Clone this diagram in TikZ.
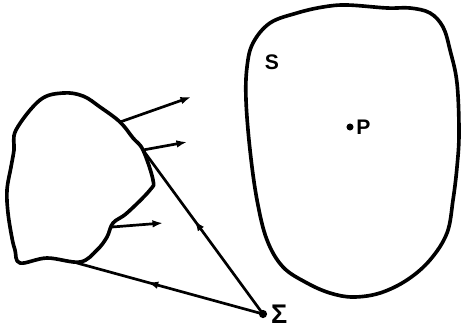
\documentclass[tikz,border=0pt]{standalone}
\usepackage{fontspec}
\usepackage{tikz}
\usetikzlibrary{arrows.meta,decorations.markings}
\newfontfamily\lblfont{Liberation Sans}

\begin{document}
\begin{tikzpicture}[
    x=0.03cm, y=-0.03cm,
    >={Latex[length=9pt,width=6.5pt]},
    outline/.style={line width=3.1pt, line join=round},
    ray/.style={->, line width=2.3pt},
    leg/.style={
        line width=2.3pt,
        postaction={decorate},
        decoration={markings, mark=at position #1 with {\arrow{>}}}
    },
    dot/.style={circle, fill=black, inner sep=0pt, minimum size=#1},
    lbl/.style={font=\fontsize{18}{21}\selectfont\lblfont\bfseries, inner sep=0pt}
]

% Stable crop.
\path[use as bounding box] (0,0) rectangle (461,332);

% --------------------------------------------------
% Radiating body (left)
% --------------------------------------------------
\draw[outline] plot[smooth cycle, tension=0.6] coordinates {
    (63,93) (83,96) (100,107) (120,122) (133,138) (143,150) (153,180)
    (150,190) (127,213) (113,223) (107,237) (97,250) (80,262)
    (47,258) (20,263) (15,250) (12,238) (8,213) (7,190) (11,167)
    (14,150) (16,130) (40,100)};

\coordinate (src1) at (120,122);
\coordinate (src2) at (143,150);
\coordinate (src3) at (112,227);
\coordinate (srcb) at (77,263);

\coordinate (tip1) at (191,97);
\coordinate (tip2) at (187,142);
\coordinate (tip3) at (163,223);

% --------------------------------------------------
% Closed surface S with the field point P
% --------------------------------------------------
\draw[outline] plot[smooth cycle, tension=0.6] coordinates {
    (347,5) (387,8) (410,8) (430,13) (443,27) (450,50) (457,83)
    (459,133) (457,167) (453,200) (447,233) (430,260) (407,280)
    (380,293) (353,297) (330,293) (307,283) (283,267) (267,240)
    (257,200) (250,150) (246,100) (247,67) (253,43) (270,23)
    (297,13) (323,7)};

\node[lbl] (surf) at (272,62) {S};
\node[dot=6pt] (pt) at (350,127) {};
\node[lbl, anchor=west] (ptlbl) at ([xshift=2pt]pt.east) {P};

% --------------------------------------------------
% Observation point Sigma
% --------------------------------------------------
\node[dot=7pt] (obs) at (263,314) {};
\node[lbl, font=\fontsize{23}{26}\selectfont\lblfont\bfseries, anchor=west]
    (obslbl) at ([xshift=3pt]obs.east) {Σ};

% --------------------------------------------------
% Rays and lines
% --------------------------------------------------
\draw[ray] (src1) -- (tip1);
\draw[ray] (src2) -- (tip2);
\draw[ray] (src3) -- (tip3);

\draw[leg=0.57] (obs.center) -- (src2);
\draw[leg=0.62] (obs.center) -- (srcb);

\end{tikzpicture}
\end{document}
